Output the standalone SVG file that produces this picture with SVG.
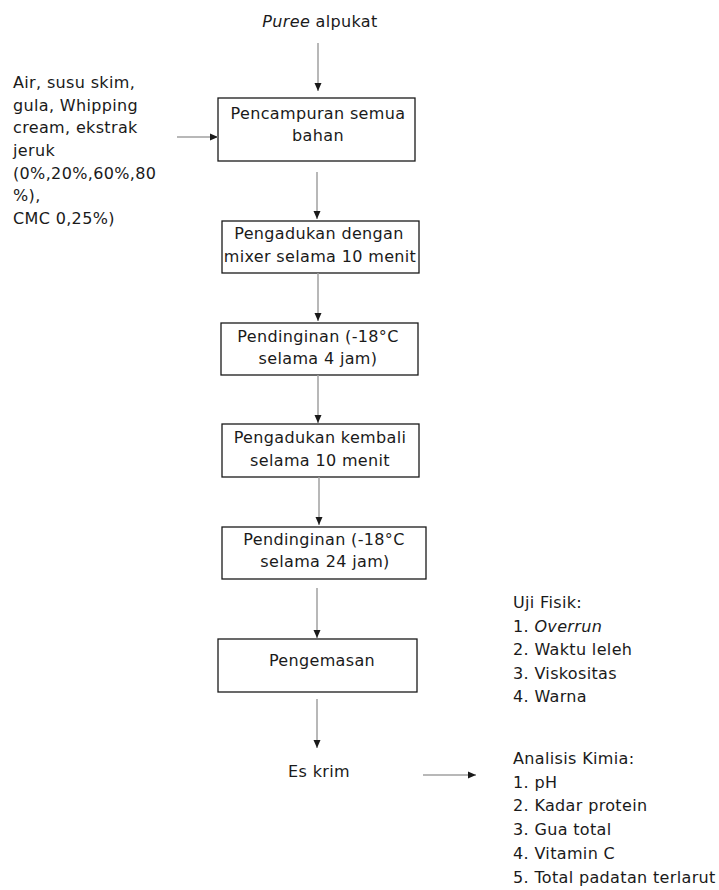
<svg xmlns="http://www.w3.org/2000/svg" width="719" height="890" viewBox="0 0 719 890">
<defs>
<marker id="ah" viewBox="0 0 8 8" refX="8" refY="4" markerWidth="8" markerHeight="8" markerUnits="userSpaceOnUse" orient="auto">
<path d="M0,0.5 L8,4 L0,7.5 z" fill="#1a1a1a"/>
</marker>
<style>
text{font-family:"DejaVu Sans",Verdana,sans-serif;font-size:16px;letter-spacing:0.35px;fill:#1a1a1a}
.c{text-anchor:middle}
.box{fill:#fff;stroke:#1a1a1a;stroke-width:1.3}
.con line{stroke:#a0a0a0;stroke-width:1.5;marker-end:url(#ah)}
</style>
</defs>
<rect width="719" height="890" fill="#fff"/>
<g id="puree"><text x="320" y="27" class="c"><tspan font-style="italic">Puree</tspan> alpukat</text></g>
<g id="bahan">
<text x="13" y="88">Air, susu skim,</text>
<text x="13" y="110.5">gula, Whipping</text>
<text x="13" y="133">cream, ekstrak</text>
<text x="13" y="156">jeruk</text>
<text x="13" y="178.5">(0%,20%,60%,80</text>
<text x="13" y="201">%),</text>
<text x="13" y="224">CMC 0,25%)</text>
</g>
<g id="pencampuran"><rect class="box" x="218" y="98" width="197" height="63"/>
<text x="318" y="119" class="c">Pencampuran semua</text>
<text x="318" y="141" class="c">bahan</text></g>
<g id="pengadukan1"><rect class="box" x="222" y="221" width="197" height="52"/>
<text x="319" y="239" class="c">Pengadukan dengan</text>
<text x="320" y="262" class="c">mixer selama 10 menit</text></g>
<g id="pendinginan1"><rect class="box" x="221" y="323" width="197" height="52"/>
<text x="318" y="342" class="c">Pendinginan (-18°C</text>
<text x="318" y="364" class="c">selama 4 jam)</text></g>
<g id="pengadukan2"><rect class="box" x="222" y="424" width="197" height="53"/>
<text x="320" y="443" class="c">Pengadukan kembali</text>
<text x="320" y="466" class="c">selama 10 menit</text></g>
<g id="pendinginan2"><rect class="box" x="222" y="527" width="204" height="52"/>
<text x="324" y="545" class="c">Pendinginan (-18°C</text>
<text x="325" y="567" class="c">selama 24 jam)</text></g>
<g id="pengemasan"><rect class="box" x="218" y="639" width="199" height="53"/>
<text x="322" y="666" class="c">Pengemasan</text></g>
<g id="eskrim"><text x="319" y="777" class="c">Es krim</text></g>
<g id="uji">
<text x="513" y="608">Uji Fisik:</text>
<text x="513" y="631.5">1. <tspan font-style="italic">Overrun</tspan></text>
<text x="513" y="655">2. Waktu leleh</text>
<text x="513" y="678.5">3. Viskositas</text>
<text x="513" y="702">4. Warna</text>
<text x="513" y="764">Analisis Kimia:</text>
<text x="513" y="787.7">1. pH</text>
<text x="513" y="811.4">2. Kadar protein</text>
<text x="513" y="835">3. Gua total</text>
<text x="513" y="858.8">4. Vitamin C</text>
<text x="513" y="882.5">5. Total padatan terlarut</text>
</g>
<g class="con" id="connectors">
<line x1="318" y1="43" x2="318" y2="91"/>
<line x1="177" y1="137" x2="218" y2="137"/>
<line x1="317" y1="172" x2="317" y2="219"/>
<line x1="318" y1="273" x2="318" y2="321"/>
<line x1="318" y1="375" x2="318" y2="423"/>
<line x1="319" y1="477" x2="319" y2="525"/>
<line x1="317" y1="588" x2="317" y2="638"/>
<line x1="317" y1="699" x2="317" y2="748"/>
<line x1="423" y1="775" x2="476" y2="775"/>
</g>
</svg>
